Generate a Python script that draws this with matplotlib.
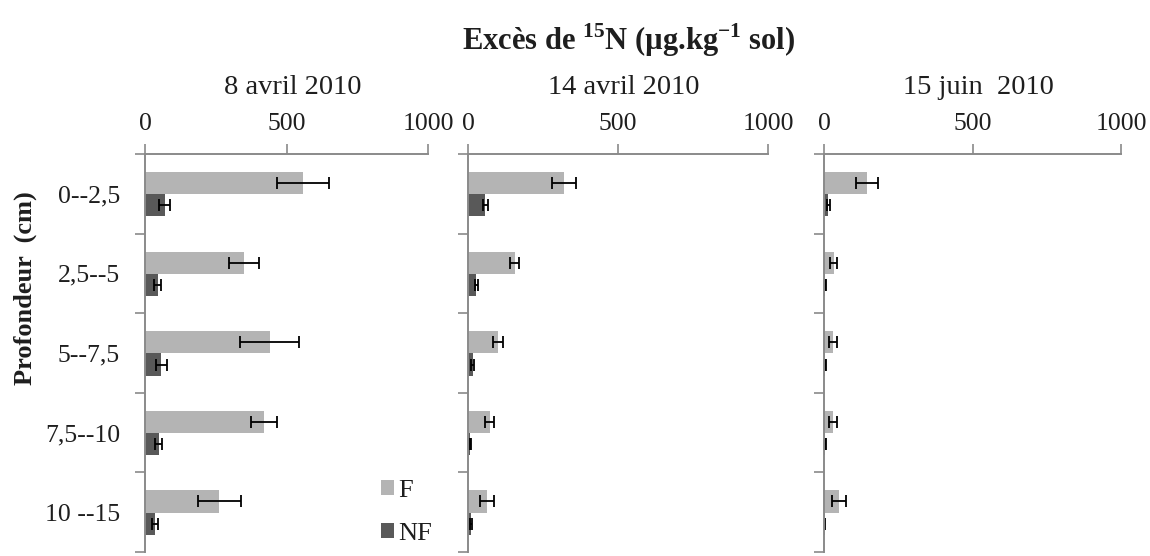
import matplotlib
matplotlib.use("Agg")
import matplotlib.pyplot as plt
import numpy as np

plt.rcParams["font.family"] = ["Liberation Serif", "DejaVu Serif"]
plt.rcParams["mathtext.fontset"] = "custom"
plt.rcParams["mathtext.rm"] = "Liberation Serif"
plt.rcParams["mathtext.bf"] = "Liberation Serif:bold"

depths = ["0--2,5", "2,5--5", "5--7,5", "7,5--10", "10 --15"]
dates = ["8 avril 2010", "14 avril 2010", "15 juin  2010"]

# 15N excess (µg/kg soil), fertilised (F) and non-fertilised (NF)
f_8avr = [558, 350, 440, 420, 263]
f_8avr_err = [92, 53, 105, 46, 75]
nf_8avr = [70, 45, 58, 48, 35]
nf_8avr_err = [20, 13, 18, 12, 12]

f_14avr = [320, 155, 100, 72, 63]
f_14avr_err = [40, 15, 17, 15, 22]
nf_14avr = [58, 28, 15, 8, 10]
nf_14avr_err = [8, 5, 4, 3, 4]

f_15jun = [145, 32, 30, 30, 50]
f_15jun_err = [38, 13, 14, 13, 23]
nf_15jun = [15, 5, 5, 4, 3]
nf_15jun_err = [5, 2, 2, 2, 2]

F_COL = "#b4b4b4"
NF_COL = "#595959"
AX_COL = "#8a8a8a"
TXT = "#1e1e1e"

W, H = 1150, 556
fig = plt.figure(figsize=(W / 100, H / 100), dpi=100)

# panel boxes in pixels: left, right
boxes = [(145, 428), (468, 768), (824, 1121)]
top_px, bot_px = 154, 552

series = [
    (f_8avr, f_8avr_err, nf_8avr, nf_8avr_err),
    (f_14avr, f_14avr_err, nf_14avr, nf_14avr_err),
    (f_15jun, f_15jun_err, nf_15jun, nf_15jun_err),
]

y = np.arange(len(depths))
bh = 0.28
axes = []
for i, ((l, r), (f, fe, nf, nfe)) in enumerate(zip(boxes, series)):
    ax = fig.add_axes([l / W, 1 - bot_px / H, (r - l) / W, (bot_px - top_px) / H])
    axes.append(ax)
    ekw = dict(ecolor="black", elinewidth=1.3, capsize=4.5, capthick=1.3)
    ax.barh(y - 0.135, f, height=bh, color=F_COL, xerr=fe, error_kw=ekw, label="F")
    ax.barh(y + 0.145, nf, height=bh, color=NF_COL, xerr=nfe, error_kw=ekw, label="NF")

    ax.set_xlim(0, 1000)
    ax.set_ylim(4.5, -0.5)
    ax.xaxis.tick_top()
    ax.set_xticks([0, 500, 1000])
    ax.tick_params(axis="x", direction="out", length=7, width=1.2, color=AX_COL,
                   labelsize=18.5, labelcolor=TXT, pad=6.5)
    ax.set_yticks(np.arange(-0.5, 5, 1))
    ax.set_yticklabels([])
    ax.tick_params(axis="y", which="major", direction="out", length=7, width=1.2, color=AX_COL)
    ax.set_yticks(y, minor=True)
    if i == 0:
        ax.set_yticklabels(depths, minor=True)
    ax.tick_params(axis="y", which="minor", length=0, labelsize=18.5, labelcolor=TXT, pad=18)
    for s in ["right", "bottom"]:
        ax.spines[s].set_visible(False)
    for s in ["top", "left"]:
        ax.spines[s].set_color(AX_COL)
        ax.spines[s].set_linewidth(1.4)

    cx = (l + r) / 2 + 6
    fig.text(cx / W, 1 - 88 / H, dates[i], ha="center", va="center",
             fontsize=20.5, color=TXT)

fig.text(629 / W, 1 - 40 / H, r"Excès de $^{\mathbf{15}}$N (µg.kg$^{\mathbf{-1}}$ sol)",
         ha="center", va="center", fontsize=22, fontweight="bold", color=TXT)
fig.text(25 / W, 1 - 288 / H, "Profondeur  (cm)", ha="center", va="center",
         rotation=90, fontsize=19, fontweight="bold", color=TXT)

axes[0].legend(loc="upper left", bbox_to_anchor=(368 / W, 1 - 467 / H),
               bbox_transform=fig.transFigure, frameon=False, fontsize=19,
               handlelength=0.5, handleheight=0.5, handletextpad=0.15,
               labelspacing=0.8, borderpad=0, labelcolor=TXT)

fig.savefig("out.png", dpi=100)
